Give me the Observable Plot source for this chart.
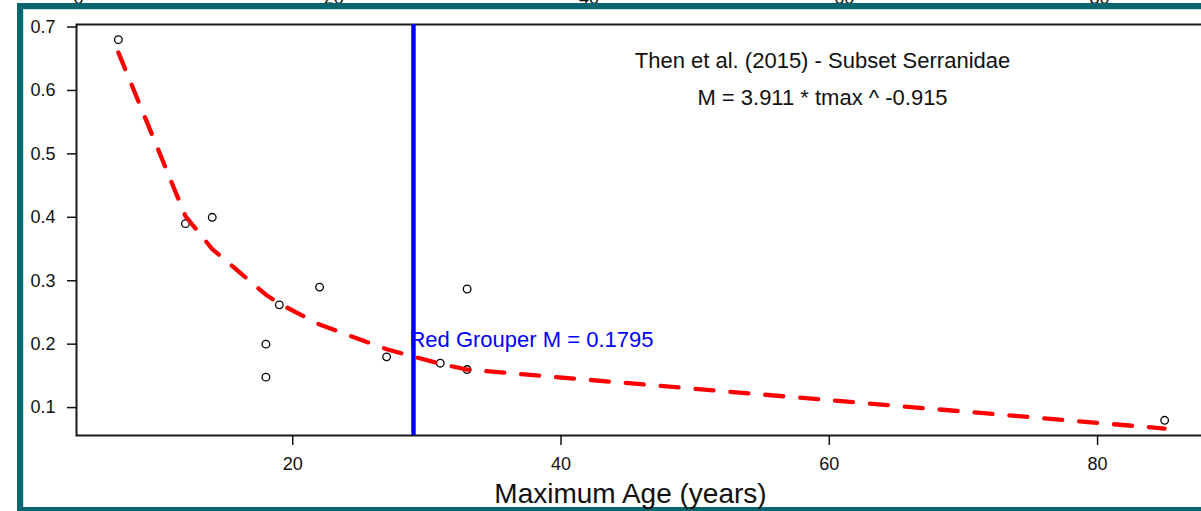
<!DOCTYPE html>
<html>
<head>
<meta charset="utf-8">
<script src="https://cdn.jsdelivr.net/npm/d3@7"></script>
<script src="https://cdn.jsdelivr.net/npm/@observablehq/plot@0.6"></script>
<style>
  html, body { margin: 0; padding: 0; background: #fff; }
  #wrap { position: relative; width: 1201px; height: 511px; overflow: hidden; background: #fff;
          font-family: "Liberation Sans", Arial, sans-serif; }
  #border { position: absolute; left: 17px; top: 3px; width: 1230px; height: 510px; box-sizing: border-box;
            border: 6px solid #07666f; box-shadow: inset 1px 1px 0 #bfe3e8; }
  #main, #topfrag { position: absolute; left: 0; }
  #main { top: 0; width: 1230px; height: 511px; }
  #topfrag { top: -17px; width: 1201px; }
  #wrap svg { max-width: none !important; }
</style>
</head>
<body>
<div id="wrap">
  <div id="border"></div>
  <div id="topfrag"></div>
  <div id="main"></div>
</div>
<script>
// ---- data ----
const ages      = [7, 12, 14, 18, 18, 19, 22, 27, 31, 33, 33, 85];
const mortality = [0.68, 0.39, 0.40, 0.20, 0.148, 0.262, 0.29, 0.18, 0.17, 0.287, 0.16, 0.08];
const fitAges   = [7, 12, 14, 18, 19, 22, 27, 31, 33, 85];
const fitM      = [0.660, 0.402, 0.350, 0.278, 0.264, 0.231, 0.192, 0.169, 0.160, 0.067];
const redGrouperTmax = 29;
const redGrouperM = 0.1795;
const xTicks = [20, 40, 60, 80];
const yTicks = [0.1, 0.2, 0.3, 0.4, 0.5, 0.6, 0.7];
const topTicks = [0, 20, 40, 60, 80];
const titleLines = ["Then et al. (2015) - Subset Serranidae", "M = 3.911 * tmax ^ -0.915"];
const redGrouperLabel = "Red Grouper M = " + redGrouperM;
const xLabel = "Maximum Age (years)";

const points = ages.map((a, i) => ({age: a, m: mortality[i]}));
const fit = fitAges.map((a, i) => ({age: a, m: fitM[i]}));

const font = "'Liberation Sans', Arial, sans-serif";

const main = Plot.plot({
  width: 1230, height: 511,
  marginLeft: 76, marginRight: 24, marginTop: 24, marginBottom: 76,
  style: {fontFamily: font, color: "#111", background: "transparent", overflow: "visible", maxWidth: "none"},
  x: {domain: [3.88, 88.12]},
  y: {domain: [0.056, 0.704]},
  marks: [
    Plot.frame({stroke: "#1a1a1a", strokeWidth: 2}),
    Plot.axisY({ticks: yTicks, tickSize: 9, tickPadding: 12, fontSize: 18, strokeWidth: 1.5,
                tickFormat: d => d.toFixed(1), label: null}),
    Plot.axisX({ticks: xTicks, tickSize: 10, tickPadding: 12, fontSize: 18, strokeWidth: 1.5, label: null}),
    Plot.dot(points, {x: "age", y: "m", r: 3.8, stroke: "#000", strokeWidth: 1.3, fill: "none"}),
    Plot.line(fit, {x: "age", y: "m", stroke: "#ff0000", strokeWidth: 4.3,
                    strokeDasharray: "18,17", strokeLinecap: "round"}),
    Plot.ruleX([redGrouperTmax], {stroke: "#0000ff", strokeWidth: 4.5}),
    Plot.text([redGrouperLabel], {x: redGrouperTmax, y: redGrouperM, text: d => d, dx: -4, dy: -17,
                                  textAnchor: "start", lineAnchor: "middle", fontSize: 22, fill: "#0000ff"}),
    Plot.text([titleLines[0]], {text: d => d, frameAnchor: "top", lineAnchor: "middle", dx: 181, dy: 36,
                                fontSize: 22, fill: "#111"}),
    Plot.text([titleLines[1]], {text: d => d, frameAnchor: "top", lineAnchor: "middle", dx: 181, dy: 73,
                                fontSize: 22, fill: "#111"}),
    Plot.text([xLabel], {text: d => d, frameAnchor: "bottom", lineAnchor: "middle", dx: -11, dy: 59,
                         fontSize: 28, fill: "#111"})
  ]
});
document.getElementById("main").appendChild(main);

// cut-off tick labels of the chart above (only their bottoms show)
const frag = Plot.plot({
  width: 1201, height: 20, marginLeft: 78, marginRight: 102, marginTop: 0, marginBottom: 0,
  style: {fontFamily: font, color: "#111", background: "transparent", maxWidth: "none"},
  x: {domain: [0, 80], axis: null},
  marks: [
    Plot.text(topTicks, {x: d => d, text: d => String(d), frameAnchor: "bottom", lineAnchor: "bottom",
                         fontSize: 18, fill: "#111"})
  ]
});
document.getElementById("topfrag").appendChild(frag);
</script>
</body>
</html>
